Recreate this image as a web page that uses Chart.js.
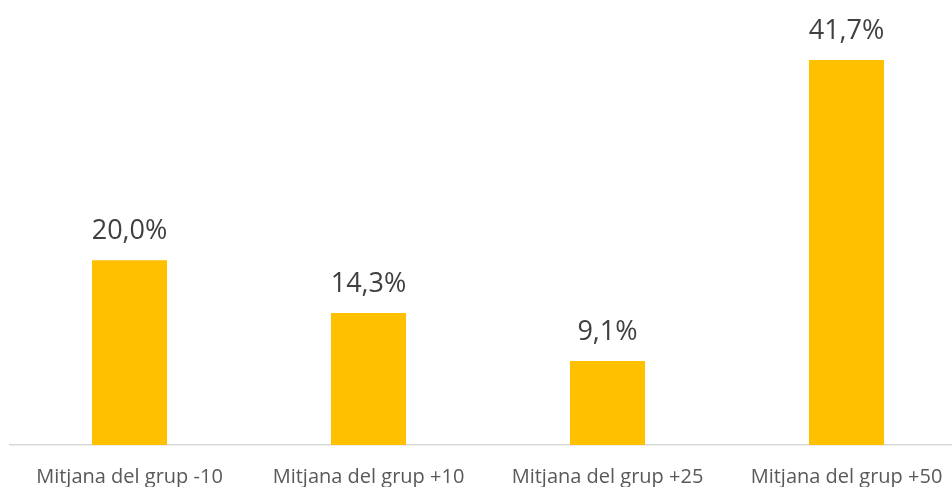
<!DOCTYPE html>
<html>
<head>
<meta charset="utf-8">
<script src="https://cdn.jsdelivr.net/npm/chart.js"></script>
<style>
  html, body { margin: 0; padding: 0; background: #fff; overflow: hidden; }
  #wrap { position: absolute; left: 0; top: 0; width: 966px; height: 487px; }
</style>
</head>
<body>
<div id="wrap"><canvas id="chart" width="966" height="487"></canvas></div>
<script>
const categories = ["Mitjana del grup -10", "Mitjana del grup +10", "Mitjana del grup +25", "Mitjana del grup +50"];
const values = [20.0, 14.3, 9.1, 41.7];
const valueLabels = ["20,0%", "14,3%", "9,1%", "41,7%"];

// value labels above each bar
const barLabels = {
  id: 'barLabels',
  afterDatasetsDraw(chart) {
    const ctx = chart.ctx;
    const meta = chart.getDatasetMeta(0);
    ctx.save();
    ctx.font = '27px "Open Sans", sans-serif';
    ctx.fillStyle = '#404040';
    ctx.textAlign = 'center';
    ctx.textBaseline = 'alphabetic';
    meta.data.forEach((bar, i) => {
      ctx.fillText(valueLabels[i], bar.x, bar.y - 21);
    });
    ctx.restore();
  }
};

new Chart(document.getElementById('chart'), {
  type: 'bar',
  data: {
    labels: categories,
    datasets: [{
      data: values,
      backgroundColor: '#ffc000',
      barPercentage: 1,
      categoryPercentage: 0.314
    }]
  },
  options: {
    responsive: false,
    animation: false,
    layout: { padding: { left: 10, right: 0, top: 0, bottom: 0 } },
    plugins: { legend: { display: false }, tooltip: { enabled: false } },
    scales: {
      x: {
        grid: { display: false },
        border: { display: true, color: '#d9d9d9', width: 1.5 },
        ticks: {
          color: '#595959',
          font: { family: '"Open Sans", sans-serif', size: 20 },
          padding: 12,
          maxRotation: 0
        },
        afterFit(scale) { scale.height = 42; }
      },
      y: {
        display: false,
        min: 0,
        max: 48.2
      }
    }
  },
  plugins: [barLabels]
});
</script>
</body>
</html>
